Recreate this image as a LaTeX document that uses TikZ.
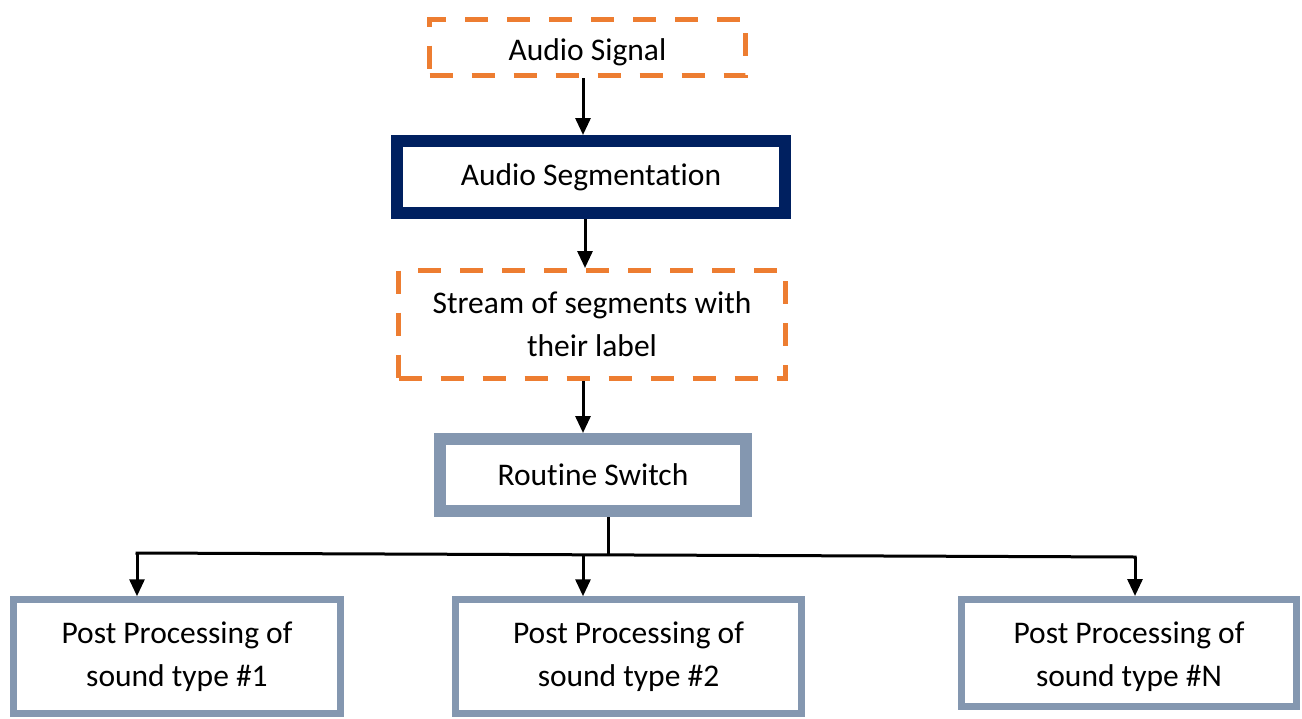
\documentclass[tikz,border=0pt]{standalone}
\usepackage{fontspec}
\setmainfont{Carlito}[Ligatures={NoCommon,NoContextual}]
\usetikzlibrary{arrows.meta}
\definecolor{boxorange}{HTML}{ED7D31}
\definecolor{boxnavy}{HTML}{002060}
\definecolor{boxgrey}{HTML}{8497B0}
\begin{document}
\begin{tikzpicture}[x=1pt,y=-1pt,
  every node/.style={font=\fontsize{31.5}{43}\selectfont, align=center, inner sep=0pt},
  databox/.style={draw=boxorange, line width=5pt, dash pattern=on 23pt off 19pt, fill=white},
  segbox/.style={draw=boxnavy, line width=12pt, fill=white},
  switchbox/.style={draw=boxgrey, line width=12pt, fill=white},
  postbox/.style={draw=boxgrey, line width=7pt, fill=white},
  link/.style={line width=3pt, draw=black},
  flow/.style={link, -{Triangle[width=15pt,length=17pt]}}]
\useasboundingbox (0,0) rectangle (1302,718);

% processing chain
\node[databox, minimum width=316pt, minimum height=56pt,
      label={[yshift=-5pt]center:Audio Signal}] (sig) at (587.5,47.5) {};
\node[segbox, minimum width=388pt, minimum height=72pt] (seg) at (591,177) {Audio Segmentation};
\node[databox, minimum width=387pt, minimum height=108pt] (str) at (592,324.5) {Stream of segments with\\their label};
\node[switchbox, minimum width=306pt, minimum height=72pt] (rs) at (593,475) {Routine Switch};

% post-processing branches
\node[postbox, minimum width=327pt, minimum height=113.5pt] (p1) at (177,656.5) {Post Processing of\\sound type \#1};
\node[postbox, minimum width=346pt, minimum height=113.5pt] (p2) at (628.5,656.5) {Post Processing of\\sound type \#2};
\node[postbox, minimum width=335pt, minimum height=107pt,
      label={[yshift=-3.5pt, align=center]center:Post Processing of\\sound type \#N}] (pn) at (1129,653) {};

\draw[flow] ([xshift=-4.5pt]sig.south) -- ([xshift=-4.5pt]sig.south |- seg.north);
\draw[flow] ([xshift=-6pt]seg.south) -- ([xshift=-6pt]seg.south |- str.north);
\draw[flow] ([xshift=-9pt]str.south) -- ([xshift=-9pt]str.south |- rs.north);

% distribution bus
\coordinate (jn) at (608,554.5);
\coordinate (bl) at (137,553);
\coordinate (bm) at (583,555);
\coordinate (br) at (1135,557);
\draw[link] (rs.south -| jn) -- (jn);
\draw[link, line cap=rect] (bl) -- (br);
\draw[flow] (bl) -- (bl |- p1.north);
\draw[flow] (bm) -- (bm |- p2.north);
\draw[flow] (br) -- (br |- pn.north);
\end{tikzpicture}
\end{document}
